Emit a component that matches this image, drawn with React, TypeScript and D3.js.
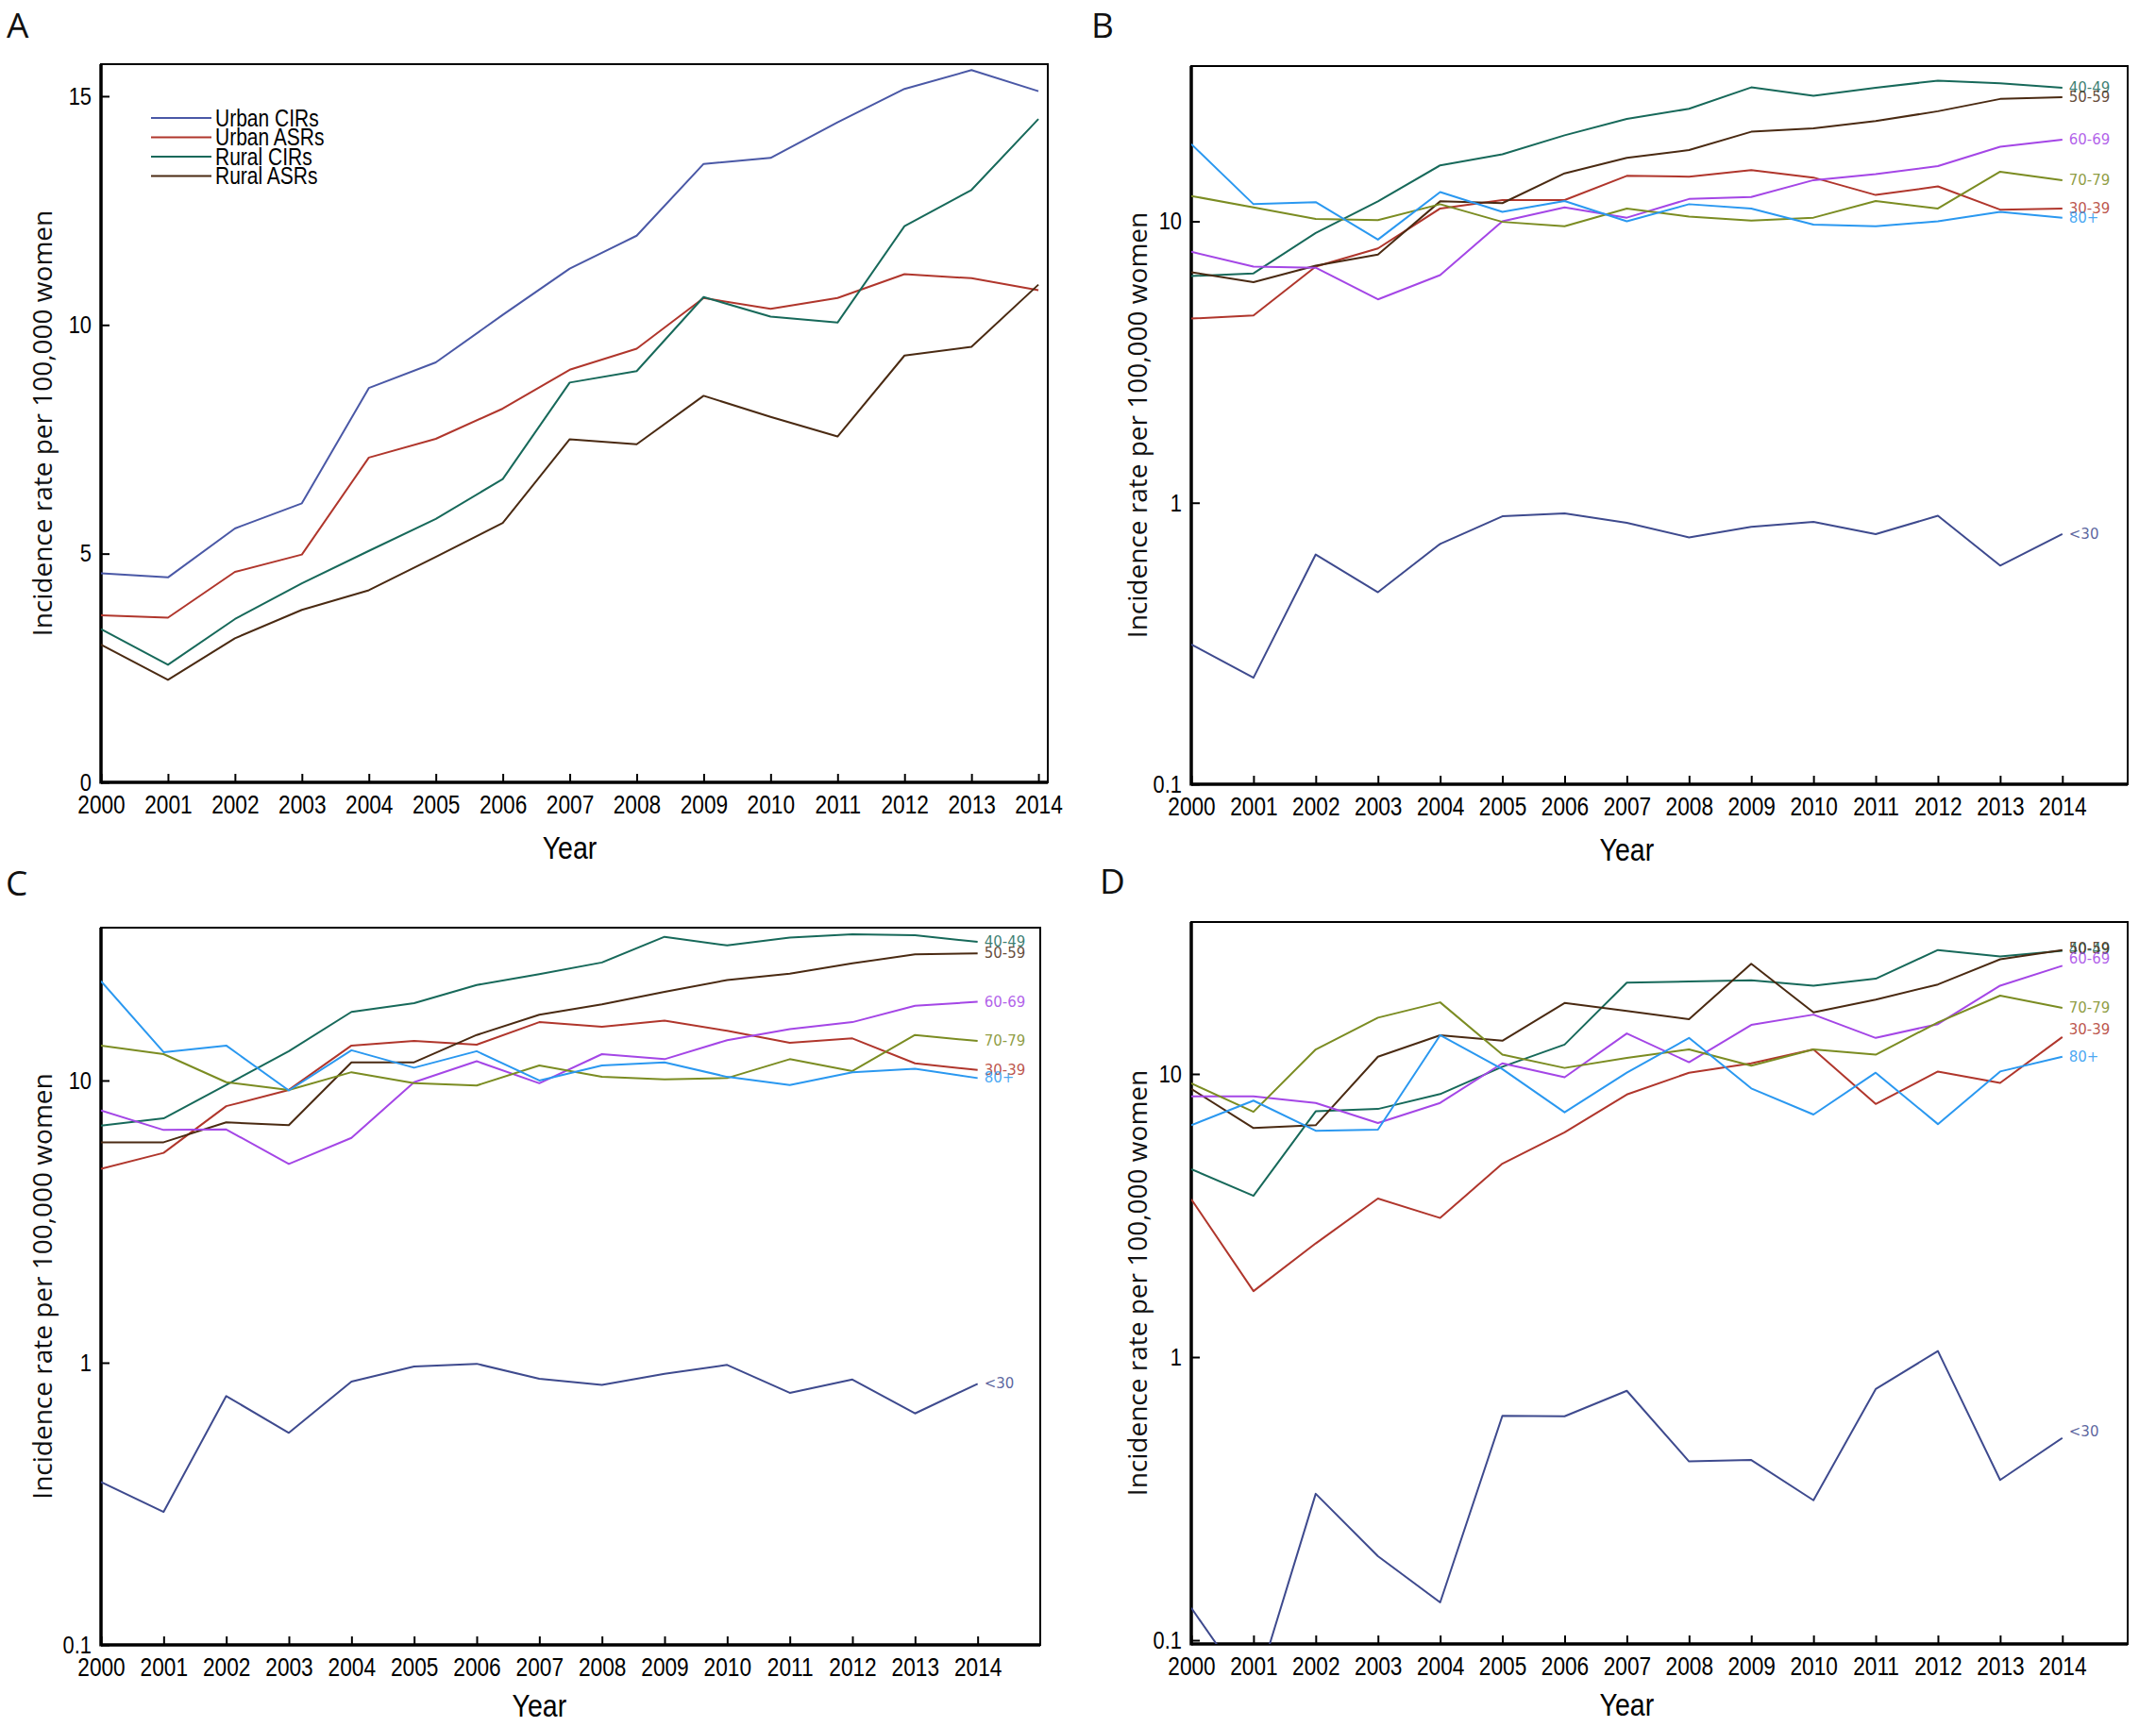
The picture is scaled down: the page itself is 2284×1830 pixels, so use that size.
"use client"

import * as React from "react"
import * as d3 from "d3"

const years = [2000, 2001, 2002, 2003, 2004, 2005, 2006, 2007, 2008, 2009, 2010, 2011, 2012, 2013, 2014]

// panel A: urban / rural crude and age-standardised rates
const urbanCIRs = [4.57, 4.48, 5.55, 6.1, 8.62, 9.18, 10.22, 11.23, 11.95, 13.52, 13.65, 14.43, 15.16, 15.57, 15.11]
const urbanASRs = [3.65, 3.6, 4.6, 4.98, 7.1, 7.51, 8.17, 9.02, 9.48, 10.59, 10.35, 10.59, 11.11, 11.02, 10.76]
const ruralCIRs = [3.35, 2.57, 3.57, 4.35, 5.06, 5.76, 6.63, 8.74, 8.99, 10.61, 10.18, 10.05, 12.16, 12.95, 14.5]
const ruralASRs = [3.01, 2.24, 3.15, 3.77, 4.2, 4.93, 5.67, 7.5, 7.39, 8.45, 7.99, 7.56, 9.33, 9.52, 10.88]
const legendNames = ["Urban CIRs", "Urban ASRs", "Rural CIRs", "Rural ASRs"]

// age groups (panels B, C, D)
const ageGroups = ["<30", "30-39", "40-49", "50-59", "60-69", "70-79", "80+"]

const bLt30 = [0.314, 0.239, 0.655, 0.481, 0.714, 0.895, 0.916, 0.848, 0.753, 0.821, 0.855, 0.774, 0.899, 0.598, 0.774]
const b30 = [4.51, 4.63, 6.9, 8.01, 11.1, 11.9, 11.9, 14.5, 14.4, 15.2, 14.3, 12.4, 13.3, 11.0, 11.1]
const b40 = [6.39, 6.53, 9.09, 11.77, 15.8, 17.3, 20.2, 23.1, 25.1, 29.9, 27.9, 29.8, 31.6, 30.9, 29.8]
const b50 = [6.59, 6.08, 6.96, 7.62, 11.77, 11.6, 14.8, 16.8, 17.9, 20.8, 21.4, 22.7, 24.6, 27.2, 27.6]
const b60 = [7.79, 6.9, 6.84, 5.28, 6.44, 10.0, 11.2, 10.3, 12.0, 12.2, 14.0, 14.7, 15.7, 18.4, 19.5]
const b70 = [12.3, 11.2, 10.2, 10.1, 11.5, 9.95, 9.6, 11.1, 10.4, 10.05, 10.3, 11.8, 11.1, 15.0, 14.0]
const b80 = [18.8, 11.5, 11.7, 8.61, 12.7, 10.8, 11.8, 10.0, 11.5, 11.1, 9.73, 9.6, 10.0, 10.8, 10.3]

const cLt30 = [0.378, 0.296, 0.762, 0.564, 0.857, 0.969, 0.991, 0.877, 0.834, 0.914, 0.982, 0.782, 0.872, 0.661, 0.842]
const c30 = [4.86, 5.54, 8.11, 9.26, 13.3, 13.8, 13.4, 16.1, 15.5, 16.3, 15.0, 13.6, 14.1, 11.5, 10.9]
const c40 = [6.92, 7.34, 9.64, 12.7, 17.5, 18.8, 21.8, 23.8, 26.2, 32.3, 30.1, 32.1, 33.0, 32.7, 31.0]
const c50 = [6.04, 6.04, 7.11, 6.95, 11.6, 11.6, 14.5, 17.1, 18.6, 20.6, 22.7, 23.9, 26.0, 28.0, 28.2]
const c60 = [7.83, 6.68, 6.71, 5.06, 6.26, 9.86, 11.7, 9.78, 12.4, 11.9, 13.9, 15.2, 16.1, 18.4, 19.0]
const c70 = [13.3, 12.4, 9.86, 9.26, 10.7, 9.78, 9.6, 11.3, 10.3, 10.1, 10.2, 11.9, 10.8, 14.5, 13.8]
const c80 = [22.5, 12.6, 13.3, 9.22, 12.8, 11.1, 12.7, 10.0, 11.3, 11.6, 10.3, 9.64, 10.7, 11.0, 10.2]

const dLt30 = [0.13, 0.063, 0.329, 0.198, 0.136, 0.62, 0.618, 0.76, 0.428, 0.433, 0.312, 0.771, 1.05, 0.368, 0.518]
const d30 = [3.61, 1.71, 2.52, 3.63, 3.1, 4.82, 6.22, 8.46, 10.1, 10.9, 12.2, 7.83, 10.2, 9.3, 13.5]
const d40 = [4.61, 3.71, 7.38, 7.52, 8.49, 10.6, 12.7, 21.0, 21.2, 21.4, 20.5, 21.7, 27.4, 26.0, 27.2]
const d50 = [8.85, 6.44, 6.59, 11.5, 13.7, 13.1, 17.8, 16.7, 15.6, 24.5, 16.5, 18.3, 20.7, 25.4, 27.4]
const d60 = [8.34, 8.34, 7.9, 6.71, 7.9, 10.9, 9.73, 13.9, 11.0, 14.9, 16.2, 13.4, 15.0, 20.5, 24.1]
const d70 = [9.26, 7.35, 12.2, 15.8, 17.9, 11.7, 10.5, 11.4, 12.2, 10.7, 12.2, 11.7, 15.2, 18.9, 17.1]
const d80 = [6.59, 8.05, 6.3, 6.36, 13.7, 10.4, 7.32, 10.1, 13.4, 8.89, 7.19, 10.1, 6.65, 10.2, 11.5]

const legendColors = ["#4a58a6", "#b0362c", "#17695a", "#4a2a12"]
const ageColors = ["#3e4a8e", "#b0362c", "#17695a", "#4a2a12", "#a446e6", "#7b8c22", "#2a98f0"]

// narrow look of the original (Calibri-like) is made by squeezing Liberation Sans
const tickFont = '"Liberation Sans", Arial, sans-serif'
const squeeze = 0.84
const titleFont = '"Open Sans", "DejaVu Sans", sans-serif'
const labelFont = '"DejaVu Sans", sans-serif'

interface Series {
  name: string
  values: number[]
  color: string
  dy?: number
}

interface PanelCfg {
  id: string
  letter: string
  letterX: number
  letterY: number
  left: number
  right: number
  top: number
  bottom: number
  xMax: number
  log: boolean
  yDomain: [number, number]
  yTicks: number[]
  titleX: number
  yearGap: number
  series: Series[]
  endLabels: boolean
  legend: boolean
}

const ageSeries = (vals: number[][], dys: number[] = []): Series[] =>
  ageGroups.map((name, i) => ({ name, values: vals[i], color: ageColors[i], dy: dys[i] || 0 }))

const panels: PanelCfg[] = [
  {
    id: "A", letter: "A", letterX: 7, letterY: 40,
    left: 107, right: 1110, top: 68, bottom: 829, xMax: 2014.14,
    log: false, yDomain: [0, 15.7], yTicks: [0, 5, 10, 15], titleX: 44, yearGap: 70,
    series: [urbanCIRs, urbanASRs, ruralCIRs, ruralASRs].map((values, i) => ({
      name: legendNames[i], values, color: legendColors[i],
    })),
    endLabels: false, legend: true,
  },
  {
    id: "B", letter: "B", letterX: 1156, letterY: 40,
    left: 1262, right: 2254, top: 70, bottom: 831, xMax: 2015.05,
    log: true, yDomain: [0.1, 35.6], yTicks: [0.1, 1, 10], titleX: 1204, yearGap: 70,
    series: ageSeries([bLt30, b30, b40, b50, b60, b70, b80]),
    endLabels: true, legend: false,
  },
  {
    id: "C", letter: "C", letterX: 6, letterY: 949,
    left: 107, right: 1102, top: 983, bottom: 1743, xMax: 2015,
    log: true, yDomain: [0.1, 34.8], yTicks: [0.1, 1, 10], titleX: 44, yearGap: 65,
    series: ageSeries([cLt30, c30, c40, c50, c60, c70, c80]),
    endLabels: true, legend: false,
  },
  {
    id: "D", letter: "D", letterX: 1165, letterY: 947,
    left: 1262, right: 2254, top: 977, bottom: 1742, xMax: 2015.05,
    log: true, yDomain: [0.097, 34.4], yTicks: [0.1, 1, 10], titleX: 1204, yearGap: 65,
    series: ageSeries([dLt30, d30, d40, d50, d60, d70, d80], [-7, -8, -2, -2, -7, 0, 0]),
    endLabels: true, legend: false,
  },
]

function drawPanel(svg: d3.Selection<SVGSVGElement, unknown, null, undefined>, p: PanelCfg) {
  const g = svg.append("g").attr("class", "panel-" + p.id)

  const x = d3.scaleLinear().domain([2000, p.xMax]).range([p.left, p.right])
  const y = p.log
    ? d3.scaleLog().domain(p.yDomain).range([p.bottom, p.top])
    : d3.scaleLinear().domain(p.yDomain).range([p.bottom, p.top])

  g.append("clipPath")
    .attr("id", "clip-" + p.id)
    .append("rect")
    .attr("x", p.left)
    .attr("y", p.top)
    .attr("width", p.right - p.left)
    .attr("height", p.bottom - p.top)

  // x axis, ticks point inwards
  g.append("g")
    .attr("transform", `translate(0,${p.bottom})`)
    .call(
      d3.axisBottom(x)
        .tickValues(years)
        .tickFormat((d) => String(d))
        .tickSize(-9)
        .tickPadding(14)
    )
    .call((a) => a.select(".domain").remove())
    .call((a) => a.selectAll("line").attr("stroke", "#000").attr("stroke-width", 2))
    .call((a) =>
      a.selectAll("text")
        .attr("font-family", tickFont)
        .attr("font-size", 27)
        .attr("fill", "#000")
        .attr("transform", `scale(${squeeze},1)`)
    )

  g.append("g")
    .attr("transform", `translate(${p.left},0)`)
    .call(
      d3.axisLeft(y)
        .tickValues(p.yTicks)
        .tickFormat((d) => String(d))
        .tickSize(-9)
        .tickPadding(12)
    )
    .call((a) => a.select(".domain").remove())
    .call((a) => a.selectAll("line").attr("stroke", "#000").attr("stroke-width", 2))
    .call((a) =>
      a.selectAll("text")
        .attr("font-family", tickFont)
        .attr("font-size", 26)
        .attr("fill", "#000")
        .attr("transform", `scale(${squeeze},1)`)
    )

  // frame
  g.append("rect")
    .attr("x", p.left)
    .attr("y", p.top)
    .attr("width", p.right - p.left)
    .attr("height", p.bottom - p.top)
    .attr("fill", "none")
    .attr("stroke", "#000")
    .attr("stroke-width", 2)
  g.append("line")
    .attr("x1", p.left).attr("x2", p.left)
    .attr("y1", p.top).attr("y2", p.bottom + 1.5)
    .attr("stroke", "#000").attr("stroke-width", 3.5)
  g.append("line")
    .attr("x1", p.left).attr("x2", p.right)
    .attr("y1", p.bottom).attr("y2", p.bottom)
    .attr("stroke", "#000").attr("stroke-width", 3.5)

  const line = d3
    .line<number>()
    .x((_, i) => x(years[i]))
    .y((v) => y(v))

  g.append("g")
    .attr("clip-path", `url(#clip-${p.id})`)
    .selectAll("path")
    .data(p.series)
    .join("path")
    .attr("d", (s) => line(s.values))
    .attr("fill", "none")
    .attr("stroke", (s) => s.color)
    .attr("stroke-width", 2)
    .attr("stroke-linejoin", "round")

  if (p.endLabels) {
    const last = years.length - 1
    g.append("g")
      .selectAll("text")
      .data(p.series)
      .join("text")
      .attr("x", x(years[last]) + 7)
      .attr("y", (s) => y(s.values[last]) + (s.dy || 0))
      .attr("dominant-baseline", "central")
      .attr("font-family", labelFont)
      .attr("font-size", 15)
      .attr("fill", (s) => s.color)
      .attr("fill-opacity", 0.85)
      .text((s) => s.name)
  }

  if (p.legend) {
    const lg = g.append("g")
    const rows = lg
      .selectAll("g")
      .data(p.series)
      .join("g")
      .attr("transform", (_, i) => `translate(160,${125 + i * 20.5})`)
    rows.append("line")
      .attr("x1", 0).attr("x2", 64)
      .attr("stroke", (s) => s.color)
      .attr("stroke-width", 2)
    rows.append("text")
      .attr("transform", `translate(68,0) scale(${squeeze},1)`)
      .attr("dominant-baseline", "central")
      .attr("font-family", tickFont)
      .attr("font-size", 25)
      .attr("fill", "#000")
      .text((s) => s.name)
  }

  // titles
  g.append("text")
    .attr("transform", `translate(${p.titleX},${(p.top + p.bottom) / 2}) rotate(-90)`)
    .attr("text-anchor", "middle")
    .attr("dominant-baseline", "central")
    .attr("font-family", titleFont)
    .attr("font-size", 28)
    .attr("fill", "#111")
    .text("Incidence rate per 100,000 women")

  const midX = (x(years[0]) + x(years[years.length - 1])) / 2
  g.append("text")
    .attr("transform", `translate(${midX},${p.bottom + p.yearGap}) scale(${squeeze},1)`)
    .attr("text-anchor", "middle")
    .attr("dominant-baseline", "central")
    .attr("font-family", tickFont)
    .attr("font-size", 34)
    .attr("fill", "#000")
    .text("Year")

  g.append("text")
    .attr("x", p.letterX)
    .attr("y", p.letterY)
    .attr("font-family", titleFont)
    .attr("font-size", 37)
    .attr("fill", "#111")
    .text(p.letter)
}

export default function App(): React.JSX.Element {
  const svgRef = React.useRef<SVGSVGElement>(null)

  React.useEffect(() => {
    if (!svgRef.current) return
    const svg = d3.select(svgRef.current)
    svg.selectAll("*").remove()
    panels.forEach((p) => drawPanel(svg, p))
  }, [])

  return (
    <svg
      ref={svgRef}
      width={2284}
      height={1830}
      style={{ position: "absolute", left: 0, top: 0, background: "#fff" }}
    />
  )
}
